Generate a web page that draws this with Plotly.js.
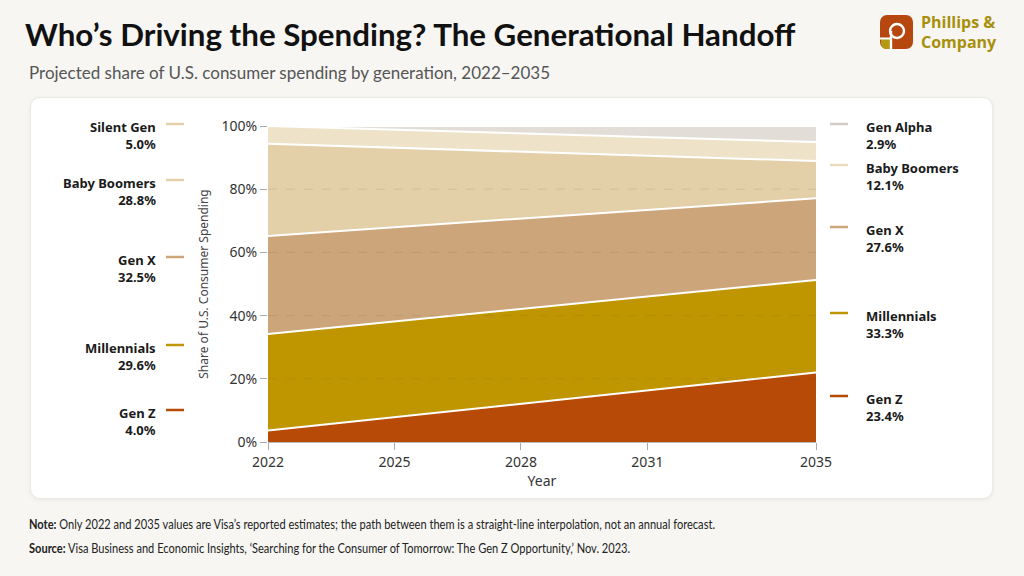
<!DOCTYPE html>
<html>
<head>
<meta charset="utf-8">
<script src="https://cdn.plot.ly/plotly-3.0.1.min.js"></script>
<style>
  body { margin: 0; background: #F7F6F3; }
  #page { position: relative; width: 1024px; height: 576px; overflow: hidden; font-family: 'Lato', 'Noto Sans', sans-serif; }
  #title { position: absolute; left: 25px; top: 15px; font-size: 31.3px; font-weight: 700; color: #111; white-space: nowrap; }
  #subtitle { position: absolute; left: 29px; top: 62px; font-size: 17px; color: #555; white-space: nowrap; }
  #card { position: absolute; left: 30px; top: 97px; width: 963px; height: 402px; background: #fff; border: 1px solid #ECEAE6; border-radius: 10px; box-shadow: 0 1px 4px rgba(0,0,0,0.06); box-sizing: border-box; }
  #chart { position: absolute; left: 0; top: 0; width: 1024px; height: 576px; }
  .foot { position: absolute; left: 29px; font-family: 'Lato', sans-serif; font-size: 13.3px; color: #222; white-space: nowrap; transform-origin: 0 50%; }
  #logo { position: absolute; left: 880px; top: 15px; }
  .logo-text { position: absolute; left: 921px; font-family: 'Open Sans', sans-serif; font-weight: 700; font-size: 16px; line-height: 16px; color: #A8900C; white-space: nowrap; }
</style>
</head>
<body>
<div id="page">
  <div id="title">Who’s Driving the Spending? The Generational Handoff</div>
  <div id="subtitle">Projected share of U.S. consumer spending by generation, 2022–2035</div>
  <svg id="logo" width="34" height="35" viewBox="0 0 34 35">
    <rect x="0" y="0" width="33" height="34" rx="7" fill="#B5470F"/>
    <path d="M1 24 H11 V34 H7 Q1 34 1 28 Z" fill="#B39A12"/>
    <circle cx="17" cy="16" r="7" fill="none" stroke="#fff" stroke-width="2.4"/>
    <line x1="11" y1="16" x2="11" y2="34" stroke="#fff" stroke-width="2.4"/>
    <line x1="0" y1="23.5" x2="11" y2="23.5" stroke="#fff" stroke-width="2"/>
  </svg>
  <div class="logo-text" style="top:14px">Phillips &amp;</div>
  <div class="logo-text" style="top:34px">Company</div>
  <div id="card"></div>
  <div id="chart"></div>
  <div class="foot" id="note" style="top:516px"><b>Note:</b> Only 2022 and 2035 values are Visa’s reported estimates; the path between them is a straight-line interpolation, not an annual forecast.</div>
  <div class="foot" id="source" style="top:540px"><b>Source:</b> Visa Business and Economic Insights, ‘Searching for the Consumer of Tomorrow: The Gen Z Opportunity,’ Nov. 2023.</div>
</div>
<script>
// Data: endpoint shares as drawn (2022, 2035)
const years = [2022, 2035];
const tickYears = [2022, 2025, 2028, 2031, 2035];
const yTicks = [0, 20, 40, 60, 80, 100];
const yTickText = ['0%', '20%', '40%', '60%', '80%', '100%'];
const generations = ['Gen Z', 'Millennials', 'Gen X', 'Baby Boomers', 'Silent Gen', 'Gen Alpha'];
const genZ = [3.6, 22.0];
const millennials = [30.6, 29.3];
const genX = [31.0, 25.8];
const boomers = [29.2, 11.8];
const silentGen = [5.6, 6.0];
const genAlpha = [0.0, 5.1];

// Labels printed beside the chart
const leftNames = ['Silent Gen', 'Baby Boomers', 'Gen X', 'Millennials', 'Gen Z'];
const leftValues = ['5.0%', '28.8%', '32.5%', '29.6%', '4.0%'];
const rightNames = ['Gen Alpha', 'Baby Boomers', 'Gen X', 'Millennials', 'Gen Z'];
const rightValues = ['2.9%', '12.1%', '27.6%', '33.3%', '23.4%'];

// Styles
const fillColors = ['#B64A06', '#C09600', '#CCA57A', '#E3CFA8', '#EEE2C9', '#E2DDD6'];
const leftDash = ['#E3CFA8', '#E3CFA8', '#CCA57A', '#C09600', '#B64A06'];
const rightDash = ['#D3CDC6', '#EBDCC0', '#CCA57A', '#C09600', '#B64A06'];
const leftRowY = [124, 180, 257, 345, 410];   // pixel rows of first label line
const rightRowY = [124, 165, 227, 313, 396];

// plot area in page pixels
const PX0 = 268, PX1 = 816, PY0 = 126, PY1 = 442;
function paperX(px) { return (px - PX0) / (PX1 - PX0); }
function paperY(py) { return (PY1 - py) / (PY1 - PY0); }

const seriesValues = [genZ, millennials, genX, boomers, silentGen, genAlpha];
var traces = generations.map((name, i) => ({
  x: years,
  y: seriesValues[i],
  name: name,
  type: 'scatter',
  mode: 'lines',
  stackgroup: 'one',
  line: { color: '#ffffff', width: 2 },
  fillcolor: fillColors[i],
  hoverinfo: 'skip',
}));

var annotations = [];
var shapes = [];

leftNames.forEach((name, i) => {
  annotations.push({
    xref: 'paper', yref: 'paper',
    x: paperX(158), y: paperY(leftRowY[i] - 8),
    xanchor: 'right', yanchor: 'top', align: 'right',
    text: '<b>' + name + '</b><br><b>' + leftValues[i] + '</b>',
    showarrow: false,
    font: { family: 'Noto Sans, sans-serif', size: 13, color: '#1a1a1a' },
  });
  shapes.push({
    type: 'line', xref: 'paper', yref: 'paper',
    x0: paperX(166), x1: paperX(184), y0: paperY(leftRowY[i]), y1: paperY(leftRowY[i]),
    line: { color: leftDash[i], width: 2.5 },
  });
});

rightNames.forEach((name, i) => {
  annotations.push({
    xref: 'paper', yref: 'paper',
    x: paperX(864), y: paperY(rightRowY[i] - 8),
    xanchor: 'left', yanchor: 'top', align: 'left',
    text: '<b>' + name + '</b><br><b>' + rightValues[i] + '</b>',
    showarrow: false,
    font: { family: 'Noto Sans, sans-serif', size: 13, color: '#1a1a1a' },
  });
  shapes.push({
    type: 'line', xref: 'paper', yref: 'paper',
    x0: paperX(830), x1: paperX(848), y0: paperY(rightRowY[i]), y1: paperY(rightRowY[i]),
    line: { color: rightDash[i], width: 2.5 },
  });
});

// faint dashed grid drawn over the areas
[20, 40, 60, 80].forEach((v) => {
  shapes.push({
    type: 'line', xref: 'paper', yref: 'y', layer: 'above',
    x0: 0, x1: 1, y0: v, y1: v,
    line: { color: 'rgba(90,80,60,0.13)', width: 1, dash: 'dash' },
  });
});

var layout = {
  width: 1024,
  height: 576,
  margin: { l: PX0, r: 1024 - PX1, t: PY0, b: 576 - PY1, pad: 0 },
  paper_bgcolor: 'rgba(0,0,0,0)',
  plot_bgcolor: 'rgba(0,0,0,0)',
  showlegend: false,
  font: { family: 'Noto Sans, sans-serif', color: '#333' },
  xaxis: {
    range: [2022, 2035],
    tickvals: tickYears,
    ticks: 'outside',
    ticklen: 7,
    tickcolor: '#aaa',
    showline: true,
    linecolor: '#bbb',
    showgrid: false,
    zeroline: false,
    tickfont: { size: 14, color: '#333' },
    title: { text: 'Year', font: { size: 14, color: '#333' }, standoff: 0 },
    automargin: false,
  },
  yaxis: {
    range: [0, 100],
    tickvals: yTicks,
    ticktext: yTickText,
    ticks: 'outside',
    ticklen: 7,
    tickcolor: '#aaa',
    showline: false,
    showgrid: false,
    zeroline: false,
    tickfont: { size: 14, color: '#333' },
    title: { text: 'Share of U.S. Consumer Spending', font: { size: 12, color: '#444' }, standoff: 10 },
    automargin: false,
  },
  annotations: annotations,
  shapes: shapes,
};

var config = { responsive: false, displayModeBar: false, staticPlot: true };

Plotly.newPlot('chart', traces, layout, config);

// squeeze the footer lines to the narrow width of the original
var noteEl = document.getElementById('note');
var sourceEl = document.getElementById('source');
var squeeze = 686 / noteEl.getBoundingClientRect().width;
noteEl.style.transform = 'scaleX(' + squeeze + ')';
sourceEl.style.transform = 'scaleX(' + squeeze + ')';
</script>
</body>
</html>
